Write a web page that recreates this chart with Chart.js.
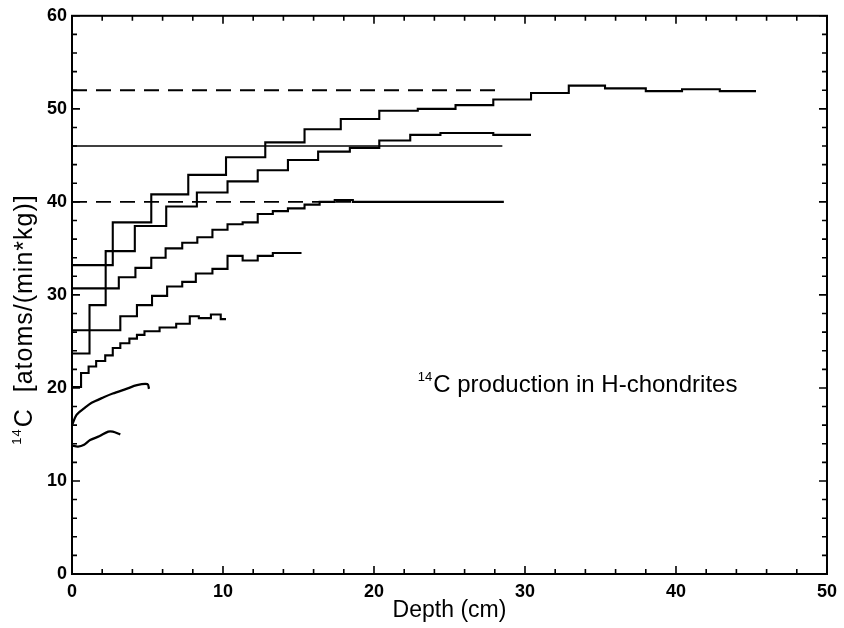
<!DOCTYPE html>
<html>
<head>
<meta charset="utf-8">
<script src="https://cdn.jsdelivr.net/npm/chart.js@4.4.1/dist/chart.umd.min.js"></script>
<style>
  html, body { margin: 0; padding: 0; background: #fff; }
  #wrap { width: 844px; height: 628px; position: relative; }
</style>
</head>
<body>
<div id="wrap"><canvas id="chart"></canvas></div>
<script>
// x = depth (cm), y = 14C production (atoms/(min*kg))
// stepped curves: each pair is [start depth, value], last pair closes the curve
const curveA = [[0, 33.2], [2.7, 37.8], [5.25, 40.8], [7.7, 42.9], [10.2, 44.8], [12.8, 46.4], [15.4, 47.8],
  [17.8, 48.9], [20.35, 49.8], [22.9, 50.0], [25.4, 50.4], [27.9, 51.0], [30.4, 51.7], [32.9, 52.5],
  [35.3, 52.2], [38.0, 51.9], [40.4, 52.1], [42.9, 51.9], [45.3, 51.9]];
const curveB = [[0, 23.7], [1.16, 28.9], [2.23, 34.7], [4.16, 37.4], [6.24, 39.5], [8.27, 41.0], [10.3, 42.2],
  [12.3, 43.4], [14.3, 44.5], [16.3, 45.4], [18.4, 45.8], [20.35, 46.6], [22.4, 47.2], [24.4, 47.4],
  [27.9, 47.2], [30.4, 47.2]];
const curveC = [[0, 30.7], [3.1, 31.9], [4.2, 32.9], [5.25, 34.0], [6.2, 35.0], [7.3, 35.6], [8.3, 36.2],
  [9.3, 37.0], [10.3, 37.6], [11.3, 37.8], [12.3, 38.7], [13.3, 39.0], [14.3, 39.3], [15.4, 39.7],
  [16.4, 40.0], [17.4, 40.2], [18.6, 40.0], [28.6, 40.0]];
const curveD = [[0, 26.2], [3.2, 27.7], [4.3, 28.9], [5.3, 29.9], [6.3, 30.9], [7.3, 31.4], [8.2, 32.3],
  [9.3, 32.8], [10.3, 34.2], [11.3, 33.7], [12.3, 34.2], [13.3, 34.5], [15.2, 34.5]];
const curveE = [[0, 20.1], [0.6, 21.6], [1.1, 22.3], [1.6, 22.9], [2.2, 23.5], [2.7, 24.3], [3.2, 24.8],
  [3.8, 25.3], [4.3, 25.7], [4.8, 26.1], [5.8, 26.5], [6.9, 26.9], [7.8, 27.7], [8.4, 27.5], [9.2, 27.9],
  [9.85, 27.4], [10.2, 27.4]];
// smooth curves for the smallest bodies
const curveF = [[0, 16.0], [0.3, 17.1], [0.8, 17.8], [1.3, 18.4], [2.1, 19.0], [2.7, 19.4], [3.6, 19.9],
  [4.3, 20.3], [5.0, 20.4], [5.1, 19.9]];
const curveG = [[0, 13.8], [0.4, 13.7], [0.8, 13.9], [1.2, 14.4], [1.8, 14.8], [2.4, 15.3], [2.7, 15.3], [3.2, 15.0]];
// reference levels
const refLevels = [52, 46, 40];
const refDashed = [true, false, true];
const refEnd = 28.5;

const xTicks = [0, 10, 20, 30, 40, 50];
const yTicks = [0, 10, 20, 30, 40, 50, 60];

const FONT = '"Liberation Sans", Arial, sans-serif';
const toPts = arr => arr.map(p => ({ x: p[0], y: p[1] }));

const datasets = [];
refLevels.forEach((lv, i) => {
  datasets.push({
    data: [{ x: 0, y: lv }, { x: refEnd, y: lv }],
    borderColor: '#000',
    borderWidth: refDashed[i] ? 1.8 : 1.5,
    borderDash: refDashed[i] ? [15, 9] : [],
    pointRadius: 0
  });
});
[curveA, curveB, curveC, curveD, curveE].forEach(c => {
  datasets.push({ data: toPts(c), borderColor: '#000', borderWidth: 2.1, stepped: 'before', pointRadius: 0 });
});
[curveF, curveG].forEach(c => {
  datasets.push({ data: toPts(c), borderColor: '#000', borderWidth: 2.3, tension: 0.3, pointRadius: 0 });
});

// inward ticks on all four sides, frame, labels
const framePlugin = {
  id: 'frame',
  afterDraw(chart) {
    const { ctx, chartArea: a, scales: { x, y } } = chart;
    ctx.save();
    ctx.strokeStyle = '#000';
    ctx.lineWidth = 2;
    ctx.strokeRect(a.left, a.top, a.right - a.left, a.bottom - a.top);
    ctx.lineWidth = 1.6;
    ctx.beginPath();
    for (let v = 0; v <= 50; v += 2) {
      const px = x.getPixelForValue(v);
      const len = v % 10 === 0 ? 8 : 5;
      ctx.moveTo(px, a.bottom); ctx.lineTo(px, a.bottom - len);
      ctx.moveTo(px, a.top); ctx.lineTo(px, a.top + len);
    }
    for (let v = 0; v <= 60; v += 2) {
      const py = y.getPixelForValue(v);
      const len = v % 10 === 0 ? 8 : 5;
      ctx.moveTo(a.left, py); ctx.lineTo(a.left + len, py);
      ctx.moveTo(a.right, py); ctx.lineTo(a.right - len, py);
    }
    ctx.stroke();

    // y axis title
    ctx.fillStyle = '#000';
    ctx.translate(32, 320);
    ctx.rotate(-Math.PI / 2);
    ctx.textBaseline = 'alphabetic';
    ctx.textAlign = 'left';
    ctx.letterSpacing = '1px';
    const main = 'C  [atoms/(min*kg)]';
    ctx.font = '25px ' + FONT;
    const wMain = ctx.measureText(main).width;
    ctx.font = '13px ' + FONT;
    const wSup = ctx.measureText('14').width;
    const start = -(wMain + wSup) / 2;
    ctx.fillText('14', start, -11);
    ctx.font = '25px ' + FONT;
    ctx.fillText(main, start + wSup + 1, 0);
    ctx.restore();

    // annotation text
    ctx.save();
    ctx.fillStyle = '#000';
    const tx = x.getPixelForValue(22.9);
    const ty = y.getPixelForValue(19.55);
    ctx.font = '13px ' + FONT;
    ctx.fillText('14', tx, ty - 11);
    const sw = ctx.measureText('14').width;
    ctx.font = '24px ' + FONT;
    ctx.fillText('C production in H-chondrites', tx + sw + 1, ty);
    ctx.restore();
  }
};

new Chart(document.getElementById('chart'), {
  type: 'line',
  data: { datasets },
  options: {
    responsive: true,
    maintainAspectRatio: false,
    animation: false,
    layout: { padding: { top: 15, right: 11, left: 0, bottom: 0 } },
    plugins: { legend: { display: false }, tooltip: { enabled: false } },
    scales: {
      x: {
        type: 'linear', min: 0, max: 50,
        afterBuildTicks: s => { s.ticks = xTicks.map(v => ({ value: v })); },
        afterFit: s => { s.height = 54; },
        grid: { display: false, drawTicks: false },
        border: { display: false },
        ticks: { color: '#000', padding: 7, font: { family: FONT, size: 18, weight: 'bold' } },
        title: { display: true, text: 'Depth (cm)', color: '#000', padding: { top: -2 },
          font: { family: FONT, size: 23 } }
      },
      y: {
        type: 'linear', min: 0, max: 60,
        afterBuildTicks: s => { s.ticks = yTicks.map(v => ({ value: v })); },
        afterFit: s => { s.width = 72; },
        grid: { display: false, drawTicks: false },
        border: { display: false },
        ticks: { color: '#000', padding: 5, font: { family: FONT, size: 18, weight: 'bold' } }
      }
    }
  },
  plugins: [framePlugin]
});
</script>
</body>
</html>
